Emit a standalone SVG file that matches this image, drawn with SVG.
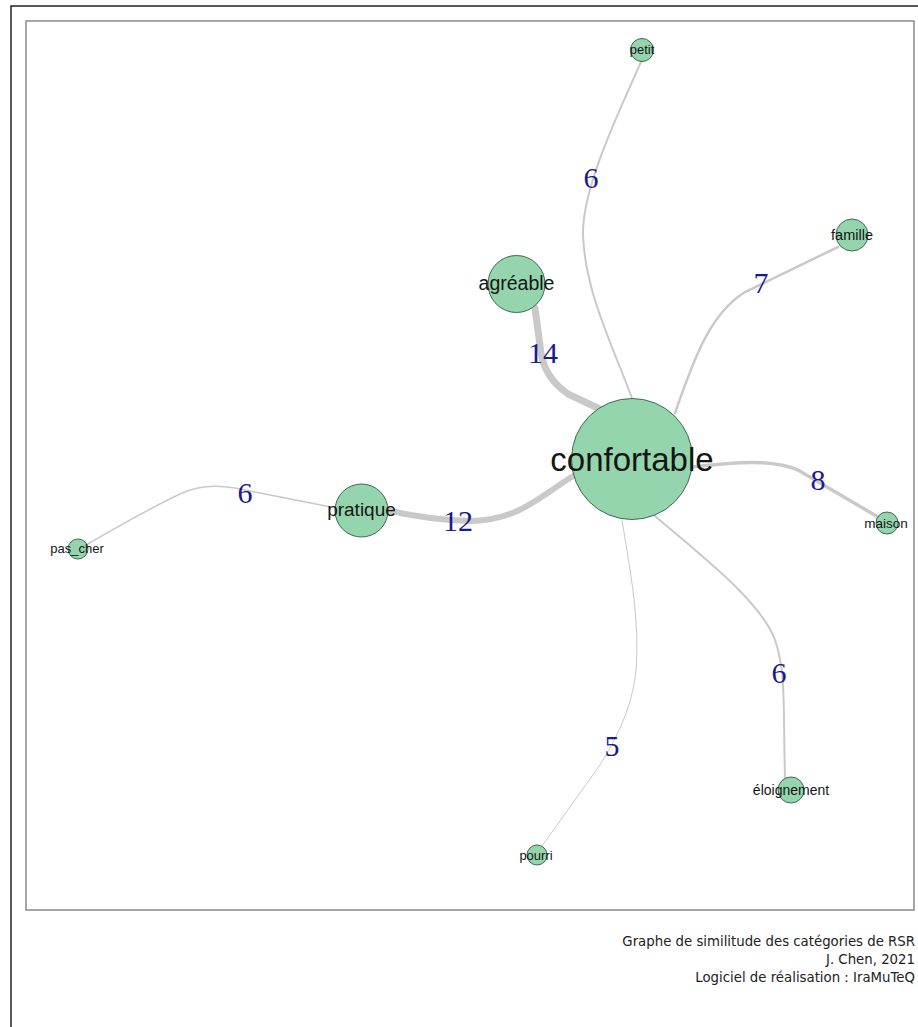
<svg xmlns="http://www.w3.org/2000/svg" width="918" height="1027" viewBox="0 0 918 1027">
<style>
.edge{fill:none;stroke:#c9c9c9;stroke-linecap:round}
.node{fill:#94d5ae;stroke:#3f6a4d;stroke-width:1}
.lbl{font-family:"Liberation Sans",Arial,sans-serif;fill:#151515;text-anchor:middle}
.w{font-family:"Liberation Serif","Times New Roman",serif;fill:#1a1a8e;font-size:30px;text-anchor:middle}
.cap{font-family:"DejaVu Sans",Tahoma,sans-serif;font-size:13.3px;fill:#222;text-anchor:end}
</style>
<rect x="0" y="0" width="918" height="1027" fill="#fff"/>
<path d="M11 1027 L11 6 L918 6" fill="none" stroke="#222" stroke-width="1.5"/>
<rect x="26" y="21" width="888" height="889" fill="#fff" stroke="#8a8a8a" stroke-width="1.5"/>
<g id="connectors">
<path class="edge" style="stroke-width:7" d="M535 308 L541 353 Q545 378 568 394 L606 412"/>
<path class="edge" style="stroke-width:6" d="M575 475 C545 492 520 521 470 521 Q430 520 386 510"/>
<path class="edge" style="stroke-width:1.5" d="M336 508 L255 492 C228 486 205 482 180 494 C150 508 112 530 86 545"/>
<path class="edge" style="stroke-width:2" d="M632 398 C610 340 585 290 583 235 C582 190 615 120 641 62"/>
<path class="edge" style="stroke-width:2.5" d="M675 413 C692 365 708 315 745 292 L838 247"/>
<path class="edge" style="stroke-width:3.5" d="M692 467 C730 463 770 458 798 470 L878 517"/>
<path class="edge" style="stroke-width:2" d="M655 516 C700 555 760 600 775 640 C786 672 783 700 785 778"/>
<path class="edge" style="stroke-width:1" d="M622 520 C630 570 640 620 636 670 C632 710 615 740 600 765 L542 846"/>
</g>
<g id="n-confortable"><circle class="node" cx="632" cy="459" r="60.5"/><text class="lbl" x="632" y="471" font-size="33">confortable</text></g>
<g id="n-agreable"><circle class="node" cx="516.5" cy="284" r="28.5"/><text class="lbl" x="516.5" y="290" font-size="19.5">agréable</text></g>
<g id="n-pratique"><circle class="node" cx="361.5" cy="510.5" r="26.5"/><text class="lbl" x="361.5" y="516" font-size="19">pratique</text></g>
<g id="n-petit"><circle class="node" cx="642" cy="50" r="11.5"/><text class="lbl" x="642" y="54" font-size="13">petit</text></g>
<g id="n-famille"><circle class="node" cx="852" cy="235" r="16"/><text class="lbl" x="852" y="240" font-size="14.5">famille</text></g>
<g id="n-maison"><circle class="node" cx="887" cy="523" r="11"/><text class="lbl" x="886" y="528" font-size="13.5">maison</text></g>
<g id="n-pas_cher"><circle class="node" cx="78" cy="549" r="10"/><text class="lbl" x="77" y="553" font-size="13">pas_cher</text></g>
<g id="n-eloignement"><circle class="node" cx="791" cy="790" r="13"/><text class="lbl" x="791" y="795" font-size="14">éloignement</text></g>
<g id="n-pourri"><circle class="node" cx="537" cy="855" r="10"/><text class="lbl" x="536" y="860" font-size="13">pourri</text></g>
<g id="edge-labels">
<text class="w" x="543" y="363">14</text>
<text class="w" x="458" y="531">12</text>
<text class="w" x="591" y="188">6</text>
<text class="w" x="761" y="293">7</text>
<text class="w" x="818" y="490">8</text>
<text class="w" x="245" y="503">6</text>
<text class="w" x="779" y="683">6</text>
<text class="w" x="612" y="756">5</text>
</g>
<g id="caption">
<text class="cap" x="915" y="946">Graphe de similitude des catégories de RSR</text>
<text class="cap" x="915" y="964">J. Chen, 2021</text>
<text class="cap" x="915" y="982">Logiciel de réalisation : IraMuTeQ</text>
</g>
</svg>
